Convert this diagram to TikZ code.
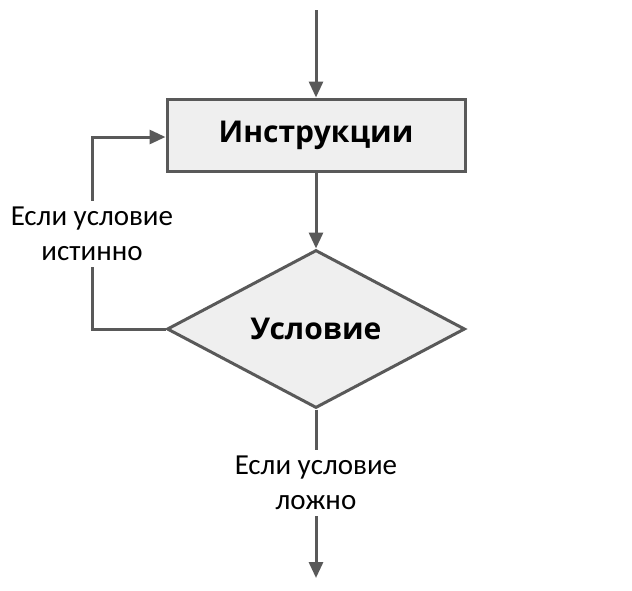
\documentclass[tikz,border=0pt]{standalone}
\usepackage{fontspec}
\setmainfont{Carlito}
\newfontfamily\headfont{Open Sans}
\usetikzlibrary{arrows.meta,positioning,shapes.geometric}
\definecolor{linegray}{HTML}{595959}
\definecolor{boxgray}{HTML}{EFEFEF}

\begin{document}
\begin{tikzpicture}[
  x=1pt, y=1pt,
  flow/.style={-{Triangle[length=16pt, width=14pt]}, line width=3pt, draw=linegray},
  block/.style={draw=linegray, line width=3pt, fill=boxgray,
                font=\headfont\bfseries\fontsize{30}{36}\selectfont},
  instrbox/.style={block, rectangle, minimum width=298pt, minimum height=72pt},
  condbox/.style={block, diamond, minimum width=298pt, minimum height=158pt, inner sep=0pt},
  branch/.style={fill=white, align=center, inner xsep=2pt, inner ysep=6pt,
                 font=\fontsize{29}{35}\selectfont}
]
\useasboundingbox (0,0) rectangle (632,-590);

% blocks of the loop
\node[instrbox] (instr) at (316,-135) {Инструкции};
\node[condbox, below=76pt of instr] (cond) {Условие};

\coordinate (entry) at (316,-10);
\coordinate (exit) at (316,-578);

% main flow
\draw[flow] (entry) -- (instr.north);
\draw[flow] (instr.south) -- (cond.north);

% back edge while the condition holds
\draw[flow] (cond.west) -| (92,-137) -- (instr.west |- 0,-137);
\node[branch] (truelbl) at (92,-234) {Если условие\\истинно};

% leaving the loop
\draw[flow] (cond.south) -- (exit);
\node[branch] (falselbl) at (316,-483) {Если условие\\ложно};

\end{tikzpicture}
\end{document}
